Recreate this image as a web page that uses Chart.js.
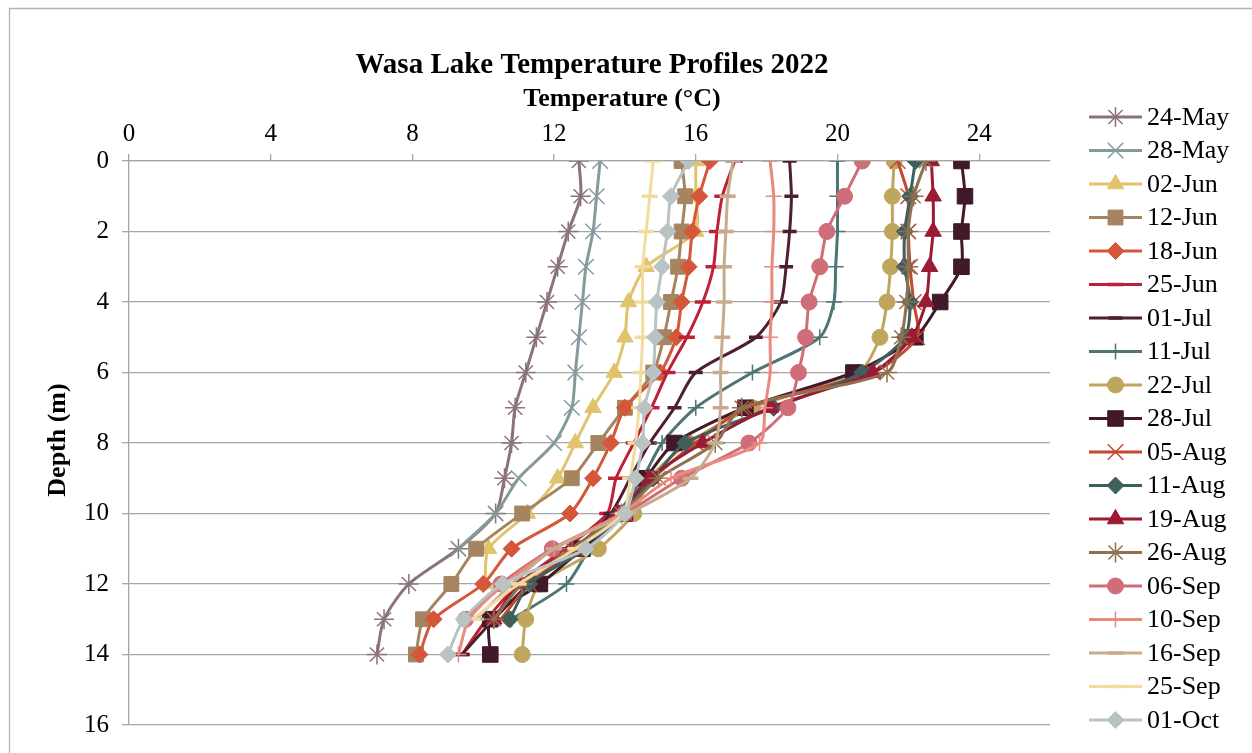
<!DOCTYPE html>
<html>
<head>
<meta charset="utf-8">
<title>Wasa Lake Temperature Profiles 2022</title>
<script src="https://cdn.jsdelivr.net/npm/chart.js"></script>
<style>
  html, body { margin: 0; padding: 0; background: #fff; }
  #wrap { width: 1252px; height: 753px; }
</style>
</head>
<body>
<div id="wrap"><canvas id="profiles" width="1252" height="753"></canvas></div>
<script>
// Depth (m) of each reading, surface down
const depths = [0, 1, 2, 3, 4, 5, 6, 7, 8, 9, 10, 11, 12, 13, 14];

// Temperature (°C) at each depth, one array per sampling date
const may24 = [12.7, 12.75, 12.4, 12.1, 11.8, 11.5, 11.2, 10.9, 10.8, 10.6, 10.35, 9.3, 7.9, 7.2, 7.0];
const may28 = [13.3, 13.2, 13.1, 12.9, 12.8, 12.7, 12.6, 12.5, 12.0, 11.0, 10.35, 9.3];
const jun02 = [16.0, 16.0, 16.0, 14.6, 14.1, 14.0, 13.7, 13.1, 12.6, 12.1, 11.25, 10.15, 10.05];
const jun12 = [15.6, 15.7, 15.6, 15.5, 15.3, 15.1, 14.8, 14.0, 13.25, 12.5, 11.1, 9.8, 9.1, 8.3, 8.1];
const jun18 = [16.4, 16.1, 15.9, 15.8, 15.6, 15.45, 15.0, 14.0, 13.6, 13.1, 12.45, 10.8, 10.0, 8.6, 8.2];
const jun25 = [17.1, 16.75, 16.6, 16.5, 16.2, 15.75, 15.2, 14.75, 14.25, 13.75, 13.5, 12.3, 11.0, 10.1, 9.4];
const jul01 = [18.65, 18.7, 18.65, 18.55, 18.4, 17.7, 16.0, 15.4, 14.7, 14.15, 13.6, 12.6, 11.3, 10.3, 9.4];
const jul11 = [20.0, 20.0, 20.0, 19.95, 19.9, 19.5, 17.6, 16.0, 15.05, 14.5, 13.8, 13.0, 12.35, 10.8];
const jul22 = [21.6, 21.55, 21.55, 21.5, 21.4, 21.2, 20.6, 17.6, 15.8, 14.7, 14.25, 13.25, 11.6, 11.2, 11.1];
const jul28 = [23.5, 23.6, 23.5, 23.5, 22.9, 22.2, 20.45, 17.4, 15.4, 14.6, 14.0, 12.8, 11.6, 10.2, 10.2];
const aug05 = [21.7, 22.0, 22.0, 22.05, 22.15, 22.25, 21.0, 17.4, 16.0, 14.8, 14.0, 12.6, 11.3, 10.5];
const aug11 = [22.2, 22.05, 21.9, 21.9, 22.05, 21.9, 20.7, 18.2, 15.7, 14.8, 13.9, 12.9, 11.3, 10.75];
const aug19 = [22.65, 22.7, 22.7, 22.6, 22.5, 22.1, 21.0, 18.1, 16.2, 14.7, 13.8, 12.5, 11.0, 10.3];
const aug26 = [22.5, 22.15, 22.0, 22.0, 21.95, 21.8, 21.4, 17.3, 16.55, 14.95, 13.9, 12.5, 11.1, 10.3];
const sep06 = [20.7, 20.2, 19.7, 19.5, 19.2, 19.1, 18.9, 18.6, 17.5, 15.6, 14.0, 11.95, 10.5, 9.5];
const sep10 = [18.1, 18.2, 18.2, 18.15, 18.15, 18.1, 18.1, 17.95, 17.8, 15.3, 13.9, 12.0, 10.6, 9.6, 9.3];
const sep16 = [17.05, 16.9, 16.85, 16.8, 16.8, 16.75, 16.7, 16.7, 16.55, 15.85, 14.1, 12.0, 10.8, 9.8];
const sep25 = [14.8, 14.7, 14.6, 14.5, 14.5, 14.5, 14.45, 14.4, 14.3, 14.15, 13.95, 12.6, 11.0, 9.7];
const oct01 = [15.8, 15.3, 15.2, 15.05, 14.9, 14.85, 14.8, 14.55, 14.5, 14.3, 14.0, 12.9, 10.55, 9.45, 9.0];

const dateLabels = ["24-May", "28-May", "02-Jun", "12-Jun", "18-Jun", "25-Jun", "01-Jul", "11-Jul", "22-Jul",
  "28-Jul", "05-Aug", "11-Aug", "19-Aug", "26-Aug", "06-Sep", "10-Sep", "16-Sep", "25-Sep", "01-Oct"];
const profiles = [may24, may28, jun02, jun12, jun18, jun25, jul01, jul11, jul22,
  jul28, aug05, aug11, aug19, aug26, sep06, sep10, sep16, sep25, oct01];

const tempTicks = [0, 4, 8, 12, 16, 20, 24];
const depthTicks = [0, 2, 4, 6, 8, 10, 12, 14, 16];

// Look of each series, in the same order as the dates
const looks = [
  { color: "#8a7379", marker: "star", r: 10 },
  { color: "#849a9c", marker: "crossRot", r: 11 },
  { color: "#e0c36c", marker: "triangle", r: 9.5 },
  { color: "#a5845f", marker: "rect", r: 10.5 },
  { color: "#d4573a", marker: "rectRot", r: 8.5 },
  { color: "#be2036", marker: "line", r: 8 },
  { color: "#4e1f2f", marker: "line", r: 7 },
  { color: "#4f7474", marker: "cross", r: 8 },
  { color: "#bfa65c", marker: "circle", r: 8 },
  { color: "#41192a", marker: "rect", r: 11 },
  { color: "#c4492e", marker: "crossRot", r: 11 },
  { color: "#3f5f5e", marker: "rectRot", r: 8.5 },
  { color: "#9a1b33", marker: "triangle", r: 9.5 },
  { color: "#8f7050", marker: "star", r: 10 },
  { color: "#cf6e78", marker: "circle", r: 8 },
  { color: "#e88a7d", marker: "cross", r: 8 },
  { color: "#c8ab8f", marker: "line", r: 8 },
  { color: "#f2db9c", marker: "line", r: 8 },
  { color: "#b9c3c3", marker: "rectRot", r: 8.5 },
];

const FONT = "'Liberation Serif', 'Times New Roman', serif";
const GRID = "#a6a6a6";

function markerWidth(style) {
  if (style === "line") return 3.5;
  if (style === "cross" || style === "crossRot" || style === "star") return 1.5;
  return 1;
}

const datasets = profiles.map((temps, i) => ({
  label: dateLabels[i],
  data: temps.map((t, k) => ({ x: t, y: depths[k] })),
  borderColor: looks[i].color,
  backgroundColor: looks[i].color,
  borderWidth: 3,
  tension: 0.25,
  pointStyle: looks[i].marker,
  pointRadius: looks[i].r,
  pointBorderWidth: markerWidth(looks[i].marker),
  pointBackgroundColor: looks[i].color,
  pointBorderColor: looks[i].color,
  order: profiles.length - i, // later dates drawn on top
}));

// Titles, frame and the line+marker legend
const decorations = {
  id: "decorations",
  beforeDraw(chart) {
    const ctx = chart.ctx;
    ctx.save();
    ctx.strokeStyle = "#b4b4b4";
    ctx.lineWidth = 1.3;
    ctx.beginPath();
    ctx.moveTo(9.5, 760);
    ctx.lineTo(9.5, 8.5);
    ctx.lineTo(1260, 8.5);
    ctx.stroke();
    ctx.restore();
  },
  afterDraw(chart) {
    const ctx = chart.ctx;
    ctx.save();
    ctx.fillStyle = "#000";
    ctx.textAlign = "center";
    ctx.textBaseline = "middle";
    ctx.font = "bold 29px " + FONT;
    ctx.fillText("Wasa Lake Temperature Profiles 2022", 592, 66);
    ctx.font = "bold 26px " + FONT;
    ctx.fillText("Temperature (°C)", 622, 99);
    ctx.translate(58, 440);
    ctx.rotate(-Math.PI / 2);
    ctx.fillText("Depth (m)", 0, 0);
    ctx.restore();

    ctx.save();
    ctx.font = "26px " + FONT;
    ctx.textAlign = "left";
    ctx.textBaseline = "middle";
    dateLabels.forEach((name, i) => {
      const y = 117 + i * 33.5;
      const look = looks[i];
      ctx.strokeStyle = look.color;
      ctx.fillStyle = look.color;
      ctx.lineWidth = 3;
      ctx.beginPath();
      ctx.moveTo(1089, y);
      ctx.lineTo(1142, y);
      ctx.stroke();
      ctx.lineWidth = markerWidth(look.marker);
      Chart.helpers.drawPoint(ctx, {
        pointStyle: look.marker,
        radius: look.r,
        rotation: 0,
        borderWidth: markerWidth(look.marker),
      }, 1115.5, y);
      ctx.fillStyle = "#000";
      ctx.fillText(name, 1147, y + 1);
    });
    ctx.restore();
  },
};

new Chart(document.getElementById("profiles"), {
  type: "line",
  data: { datasets },
  options: {
    responsive: false,
    animation: false,
    devicePixelRatio: 1,
    layout: { padding: { left: 0, top: 0, right: 202, bottom: 27 } },
    plugins: {
      legend: { display: false },
      tooltip: { enabled: false },
    },
    scales: {
      x: {
        type: "linear",
        position: "top",
        min: 0,
        max: 26,
        afterBuildTicks: (axis) => {
          axis.ticks = tempTicks.map((v) => ({ value: v }));
        },
        afterFit: (scale) => { scale.height = 161; },
        ticks: {
          color: "#000",
          font: { family: FONT, size: 25 },
          padding: 5,
          maxRotation: 0,
        },
        grid: { drawOnChartArea: false, color: GRID, lineWidth: 1.3, tickLength: 7 },
        border: { display: true, color: GRID, width: 1.3 },
      },
      y: {
        type: "linear",
        reverse: true,
        min: 0,
        max: 16,
        afterBuildTicks: (axis) => {
          axis.ticks = depthTicks.map((v) => ({ value: v }));
        },
        afterFit: (scale) => { scale.width = 129; },
        ticks: {
          color: "#000",
          font: { family: FONT, size: 25 },
          padding: 13,
        },
        grid: { color: GRID, lineWidth: 1.3, tickLength: 7 },
        border: { display: true, color: GRID, width: 1.3 },
      },
    },
  },
  plugins: [decorations],
});
</script>
</body>
</html>
